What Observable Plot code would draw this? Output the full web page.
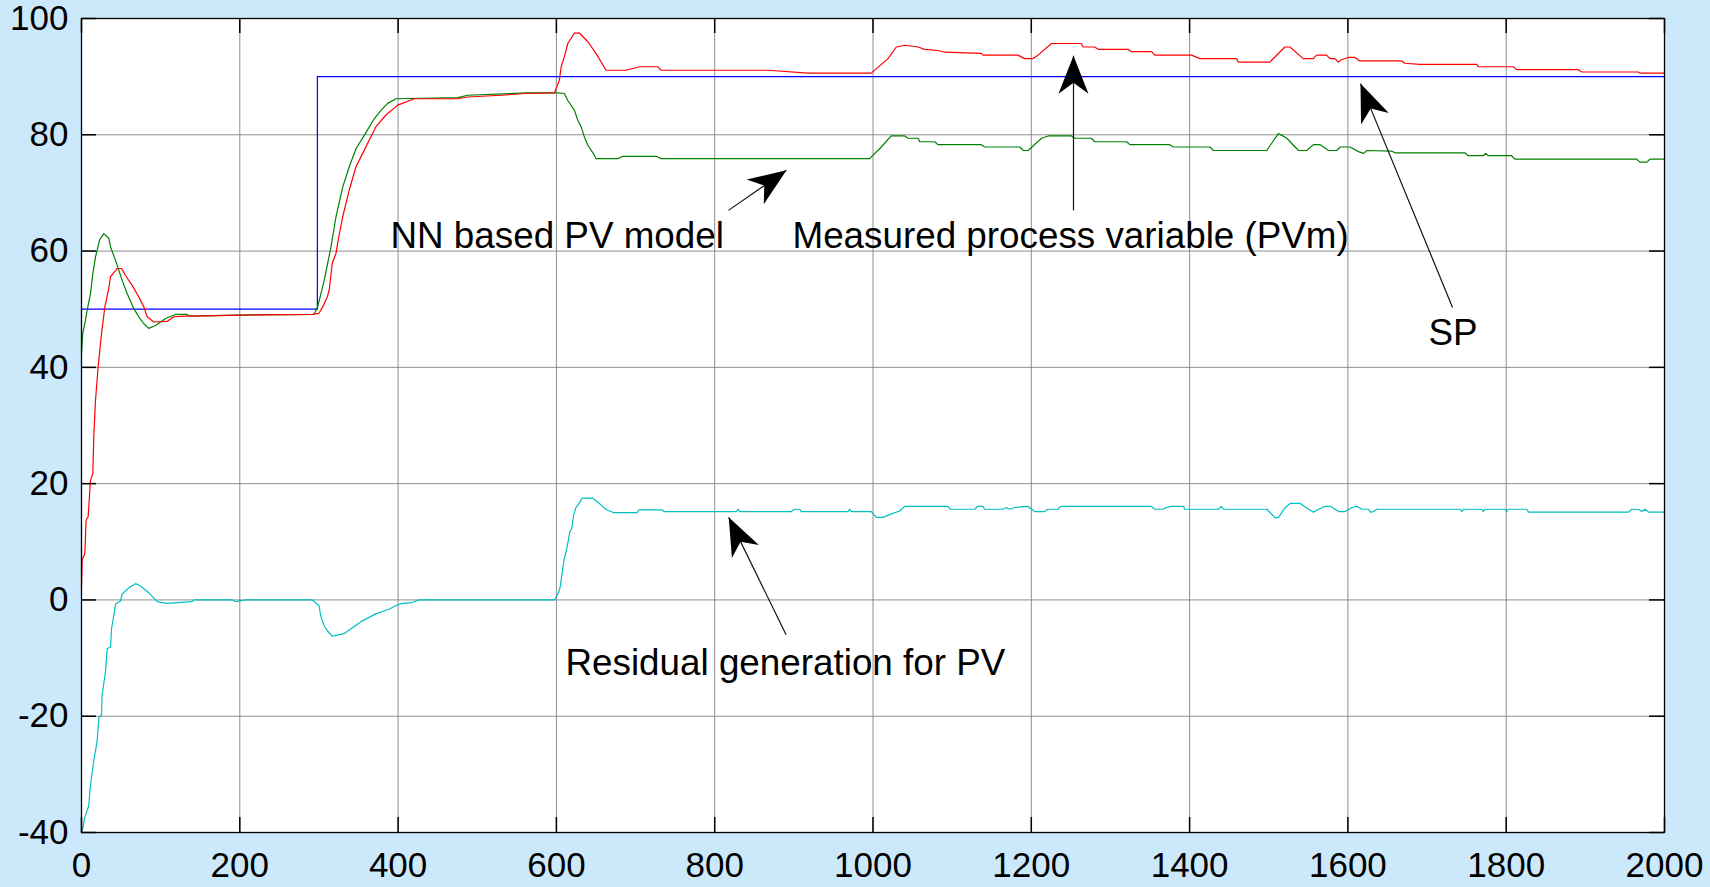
<!DOCTYPE html>
<html>
<head>
<meta charset="utf-8">
<script src="https://cdn.jsdelivr.net/npm/d3@7"></script>
<script src="https://cdn.jsdelivr.net/npm/@observablehq/plot@0.6"></script>
<style>
  html, body { margin: 0; padding: 0; background: #cce9fc; }
  #chart { width: 1710px; height: 887px; }
  #chart svg { display: block; }
</style>
</head>
<body>
<div id="chart"></div>
<script>
// ---- tick values ----
const xTicks = [0, 200, 400, 600, 800, 1000, 1200, 1400, 1600, 1800, 2000];
const yTicks = [-40, -20, 0, 20, 40, 60, 80, 100];

// ---- SP (set point) ----
const spT = [0, 298, 298, 2000];
const spV = [50, 50, 90, 90];

// ---- Measured process variable (PVm) ----
const pvT = [0, 0.8, 4.2, 5.8, 8.4, 11.4, 14.3, 15.5, 17.7, 21, 25.3, 29.5, 34.5, 36.7, 45, 50.6, 55.6, 64, 72.4, 78.8, 83, 91.4, 108, 116.7, 131.5, 203, 291.5, 300, 304.7, 310.5, 313, 316.8, 321.5, 325, 330, 338.3, 346.8, 355.2, 363.6, 372, 384.7, 399.5, 420.5, 475.3, 488, 530, 559.6, 597.5, 603.8, 606, 610, 614.4, 622.8, 629, 639.7, 650, 662.8, 688, 705, 728, 732.4, 867.3, 918, 997.8, 1019, 1029.5, 1040, 1057, 1065, 1082, 1090.5, 1137, 1139, 1183, 1191.7, 1202, 1208.5, 1225.4, 1263.3, 1265.5, 1280, 1284.5, 1322.4, 1326.5, 1352, 1356, 1402.4, 1413, 1459.3, 1461.5, 1501.4, 1520.4, 1526.7, 1543.6, 1556.3, 1560.4, 1573, 1577.3, 1583.6, 1587.8, 1592, 1600.5, 1608.9, 1615.2, 1668, 1672, 1691, 1762.7, 1764.8, 1809, 1813.3, 1891.3, 1895.5, 1967, 1969, 2000];
const pvV = [2.2, 6.8, 8.0, 13.7, 14.3, 20.6, 21.7, 28.0, 34.3, 40.1, 45.8, 50.4, 53.6, 55.6, 57.0, 57.0, 55.8, 54.1, 52.1, 50.4, 48.7, 47.8, 47.9, 48.7, 48.8, 49.0, 49.1, 49.3, 50.4, 52.1, 53.3, 57.9, 59.6, 62.4, 65.9, 70.5, 74.5, 76.8, 79.1, 81.4, 83.4, 85.1, 86.2, 86.2, 86.5, 86.8, 87.1, 87.2, 89.4, 91.7, 93.4, 95.7, 97.5, 97.5, 96.0, 94.0, 91.1, 91.1, 91.7, 91.7, 91.1, 91.1, 90.6, 90.6, 93.1, 95.1, 95.4, 95.1, 94.7, 94.5, 94.2, 94.0, 93.7, 93.7, 93.1, 93.1, 93.7, 95.7, 95.7, 95.1, 95.1, 94.7, 94.7, 94.3, 94.3, 93.7, 93.7, 93.1, 93.1, 92.5, 92.5, 95.1, 95.1, 93.1, 93.1, 93.7, 93.7, 93.1, 93.1, 92.5, 92.9, 93.3, 93.3, 92.7, 92.7, 92.3, 92.1, 92.1, 91.7, 91.7, 91.2, 91.2, 90.8, 90.8, 90.6, 90.6];

// ---- NN based PV model ----
const nnT = [0, 1.6, 5, 7.1, 11.4, 14.3, 17.7, 22.8, 28.2, 34.5, 36.7, 43, 51.3, 57.6, 66.1, 72.4, 78.8, 85, 93.6, 106.2, 118.8, 133.5, 137.8, 198.9, 293.7, 298.4, 306.7, 315.2, 321.5, 330, 338.3, 346.8, 357.3, 370, 378.4, 386.8, 397.3, 475.3, 488, 563.8, 601.8, 610, 614.4, 622.8, 627, 631.2, 635.4, 639.7, 648, 650, 677.6, 684, 726, 732.4, 995.7, 1010.5, 1023, 1040, 1044.3, 1057, 1059, 1078, 1082, 1137, 1141, 1185.5, 1189.8, 1196, 1213, 1221.3, 1250.8, 1255, 1276, 1280.3, 1320.4, 1324.6, 1375, 1379.4, 1425.8, 1430, 1497.5, 1508, 1512.3, 1516.5, 1522.8, 1537.6, 1548, 1556.5, 1565, 1575.5, 1586, 1590.3, 1602.9, 1613.4, 1619.8, 1624, 1655, 1659.5, 1748, 1752, 1771, 1774, 1777.3, 1806.8, 1811, 1964.8, 1969, 1977.5, 1981.7, 2000];
const nnV = [42.4, 45.8, 48.1, 49.8, 52.7, 56.1, 59.0, 61.9, 63.0, 62.2, 60.7, 58.4, 55.0, 52.7, 50.1, 48.7, 47.5, 46.7, 47.2, 48.4, 49.1, 49.1, 48.8, 49.0, 49.1, 50.4, 55.0, 60.7, 65.9, 71.0, 74.5, 77.6, 79.9, 82.8, 84.2, 85.4, 86.2, 86.4, 86.8, 87.2, 87.2, 87.1, 85.9, 84.2, 82.5, 81.4, 79.6, 78.2, 76.5, 75.9, 75.9, 76.3, 76.3, 75.9, 75.9, 77.9, 79.8, 79.8, 79.4, 79.4, 78.8, 78.8, 78.3, 78.3, 77.9, 77.9, 77.3, 77.3, 79.4, 79.8, 79.8, 79.4, 79.4, 78.8, 78.8, 78.3, 78.3, 77.9, 77.9, 77.3, 77.3, 79.4, 80.2, 79.9, 79.4, 77.3, 77.3, 78.3, 78.3, 77.3, 77.3, 77.9, 77.9, 77.1, 76.8, 77.3, 77.2, 76.9, 76.9, 76.4, 76.4, 76.8, 76.4, 76.4, 75.8, 75.8, 75.3, 75.3, 75.8, 75.8];

// ---- Residual generation for PV ----
const resT = [1, 4.2, 9.2, 11.4, 15.5, 19.7, 21.9, 25.3, 26, 30.3, 32.4, 36.7, 37.9, 40.8, 43, 49.3, 51.3, 59.8, 68.3, 74.6, 85, 95.6, 108.2, 139.8, 142, 190.6, 194.8, 207.4, 291.7, 300.1, 302.2, 306.4, 310.6, 316.9, 321.1, 331.6, 340, 346.4, 354.8, 363.2, 371.7, 380.1, 388.5, 396.9, 405.4, 418, 426.4, 597.6, 602.4, 604.9, 607.3, 609.7, 612.1, 614.6, 617, 619.4, 621.8, 624.3, 629.1, 632.5, 646.1, 655.8, 663.1, 672.8, 701.9, 704.4, 733.5, 735.9, 827.4, 829.5, 831.6, 896.8, 901, 907.4, 909.5, 968.4, 970.5, 972.6, 997.9, 1004.2, 1012.6, 1023.2, 1033.7, 1040, 1094.7, 1098, 1128.4, 1132.6, 1138.9, 1141, 1164.2, 1168.4, 1172.6, 1178.9, 1195.8, 1204.2, 1216.8, 1221, 1233.6, 1237.8, 1351.5, 1355.7, 1366.2, 1370.5, 1376.8, 1392.4, 1393.7, 1436.6, 1440, 1443, 1497.7, 1508.2, 1512.4, 1520.8, 1527.1, 1539.8, 1550.3, 1556.6, 1562.9, 1571.3, 1577.7, 1588.2, 1596.6, 1605, 1611.3, 1617.7, 1626.1, 1628.2, 1632.4, 1636.6, 1741.9, 1744, 1746, 1769.2, 1771, 1773, 1798.7, 1800.5, 1802.5, 1826, 1828.2, 1954.5, 1958.7, 1967.1, 1971.3, 1975.5, 1979.7, 2000];
const resV = [-39.7, -37.4, -35.4, -31.7, -27.7, -24.3, -20.3, -19.8, -16.4, -12.4, -8.4, -8.1, -5.0, -2.7, -0.7, -0.2, 1.0, 2.1, 2.8, 2.4, 1.25, -0.3, -0.6, -0.3, 0, 0, -0.3, 0, 0, -1.0, -2.7, -4.4, -5.3, -6.25, -6.1, -5.8, -5.0, -4.4, -3.6, -3.0, -2.4, -2.0, -1.6, -1.0, -0.6, -0.45, 0, 0, 1.2, 2.3, 4.7, 7.0, 8.2, 9.9, 11.7, 12.3, 14.6, 15.8, 16.7, 17.5, 17.5, 16.4, 15.5, 15.0, 15.0, 15.5, 15.5, 15.2, 15.2, 15.6, 15.2, 15.2, 15.6, 15.6, 15.2, 15.2, 15.6, 15.2, 15.2, 14.2, 14.2, 14.8, 15.3, 16.1, 16.1, 15.6, 15.6, 16.1, 16.1, 15.6, 15.6, 15.9, 15.6, 15.9, 16.1, 15.2, 15.2, 15.6, 15.6, 16.1, 16.1, 15.6, 15.6, 15.9, 16.1, 16.1, 15.6, 15.6, 16.1, 15.6, 15.6, 14.1, 14.2, 15.9, 16.6, 16.6, 15.6, 15.1, 15.6, 16.1, 16.1, 15.2, 15.2, 15.9, 16.1, 15.6, 15.6, 15.1, 15.2, 15.6, 15.6, 15.2, 15.6, 15.6, 15.2, 15.6, 15.6, 15.2, 15.6, 15.6, 15.1, 15.1, 15.6, 15.6, 15.2, 15.6, 15.1, 15.1];

// ---- annotations ----
const labelText = ["NN based PV model", "Measured process variable (PVm)", "SP", "Residual generation for PV"];
const labelX = [390.4, 898.3, 1701.8, 611.5];
const labelY = [62.5, 62.5, 45.8, -10.8];
const arrowX1 = [817.4, 1253.3, 1732.2, 890.2];
const arrowY1 = [67.0, 67.0, 50.3, -6.0];
const arrowX2 = [890.7, 1253.3, 1615.9, 817.7];
const arrowY2 = [73.9, 93.6, 88.8, 14.2];

// ---- build tables ----
const series = (T, V) => T.map((t, i) => ({t, v: V[i]}));
const sp = series(spT, spV);
const pv = series(pvT, pvV);
const nn = series(nnT, nnV);
const res = series(resT, resV);
const labels = labelText.map((text, i) => ({text, x: labelX[i], y: labelY[i]}));
const arrows = arrowX1.map((x1, i) => ({x1, y1: arrowY1[i], x2: arrowX2[i], y2: arrowY2[i]}));

const W = 1710, H = 887, mL = 81, mR = 46, mT = 18, mB = 55;
const plotW = W - mL - mR, plotH = H - mT - mB;
const xDom = [0, 2000], yDom = [-40, 100];
const sx = plotW / (xDom[1] - xDom[0]);
const sy = plotH / (yDom[1] - yDom[0]);
// rotation (degrees) of an upward-pointing head so that it follows the arrow in screen space
const headAngle = d => {
  const dx = (d.x2 - d.x1) * sx, dy = -(d.y2 - d.y1) * sy;
  return Math.atan2(dx, -dy) * 180 / Math.PI;
};
const headSymbol = {
  draw(ctx) {
    ctx.moveTo(0, 0);
    ctx.lineTo(-15, 38);
    ctx.lineTo(0, 27);
    ctx.lineTo(15, 38);
    ctx.closePath();
  }
};

const font = "'Liberation Sans', Arial, Helvetica, sans-serif";
const gridStyle = {stroke: "#7a7a7a", strokeOpacity: 0.85, strokeWidth: 1};
const fmt = d => String(d);   // plain hyphen minus, no thousands separator
const tickLen = 15;

const chart = Plot.plot({
  width: W, height: H,
  marginLeft: mL, marginRight: mR, marginTop: mT, marginBottom: mB,
  style: {background: "transparent", fontFamily: font, color: "black", overflow: "visible"},
  x: {domain: xDom, label: null},
  y: {domain: yDom, label: null},
  marks: [
    Plot.frame({fill: "white", stroke: "none"}),
    Plot.gridX(xTicks, gridStyle),
    Plot.gridY(yTicks, gridStyle),
    Plot.line(sp, {x: "t", y: "v", stroke: "#0000ff", strokeWidth: 1.2}),
    Plot.line(nn, {x: "t", y: "v", stroke: "#008000", strokeWidth: 1.2}),
    Plot.line(pv, {x: "t", y: "v", stroke: "#ff0000", strokeWidth: 1.2}),
    Plot.line(res, {x: "t", y: "v", stroke: "#00bfbf", strokeWidth: 1.2}),
    // inward ticks on all four sides
    Plot.tickX(xTicks, {x: d => d, insetTop: plotH - tickLen, stroke: "black", strokeWidth: 1.5}),
    Plot.tickX(xTicks, {x: d => d, insetBottom: plotH - tickLen, stroke: "black", strokeWidth: 1.5}),
    Plot.tickY(yTicks, {y: d => d, insetRight: plotW - tickLen, stroke: "black", strokeWidth: 1.5}),
    Plot.tickY(yTicks, {y: d => d, insetLeft: plotW - tickLen, stroke: "black", strokeWidth: 1.5}),
    Plot.axisX(xTicks, {anchor: "bottom", tickSize: 0, tickPadding: 20, fontSize: 35, label: null, fill: "black", tickFormat: fmt}),
    Plot.axisY(yTicks, {anchor: "left", tickSize: 0, tickPadding: 13, fontSize: 35, label: null, fill: "black", tickFormat: fmt}),
    Plot.frame({stroke: "black", strokeWidth: 1.3}),
    Plot.link(arrows, {x1: "x1", y1: "y1", x2: "x2", y2: "y2", stroke: "#111", strokeWidth: 1.2}),
    Plot.dot(arrows, {x: "x2", y: "y2", r: 1, symbol: headSymbol, rotate: headAngle, fill: "black", stroke: "none"}),
    Plot.text(labels, {x: "x", y: "y", text: "text", textAnchor: "start", fontSize: 36.8, fill: "black", fontFamily: font})
  ]
});
document.getElementById("chart").appendChild(chart);
</script>
</body>
</html>
